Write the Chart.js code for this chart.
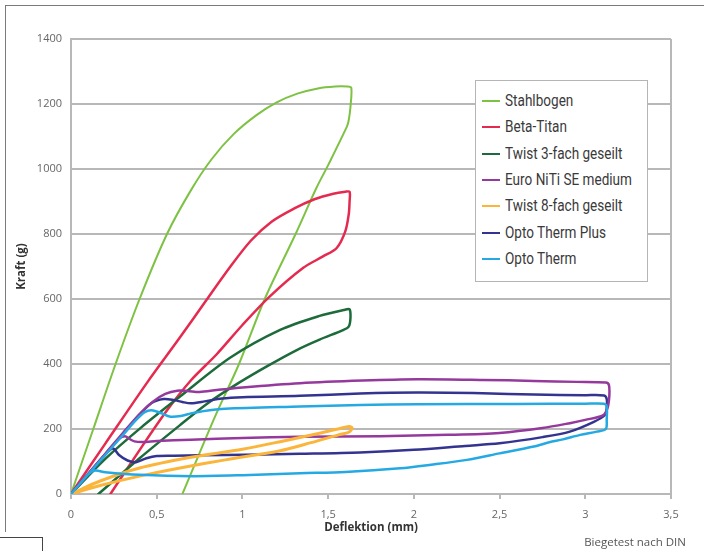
<!DOCTYPE html>
<html><head><meta charset="utf-8">
<script src="https://cdn.jsdelivr.net/npm/chart.js@4.4.1/dist/chart.umd.min.js"></script>
<style>
html,body{margin:0;padding:0;background:#fff;}
#wrap{position:relative;width:704px;height:551px;overflow:hidden;background:#fff;}
#c{position:absolute;left:0;top:0;}
.deco{position:absolute;border-color:#7a7a7a;border-style:solid;border-width:0;}
#legend{position:absolute;left:475px;top:80px;width:173px;height:202px;border:1.5px solid #b5b5b5;background:#fff;box-sizing:border-box;}
.row{position:absolute;left:0;height:26px;white-space:nowrap;}
.sw{position:absolute;left:6px;top:12px;width:18px;height:2px;}
.lt{position:absolute;left:29px;top:2px;line-height:22px;font-family:Roboto,sans-serif;font-size:16.5px;color:#3a3a3a;transform-origin:0 50%;}
#note{position:absolute;right:18px;top:534px;font-family:"Open Sans",sans-serif;font-size:11.5px;color:#555;white-space:nowrap;}
</style></head>
<body>
<div id="wrap">
<canvas id="c" width="704" height="551"></canvas>
<div class="deco" style="left:5px;top:5px;width:699px;height:0;border-top-width:1.5px;"></div>
<div class="deco" style="left:5px;top:5px;width:0;height:527px;border-left-width:1.5px;"></div>
<div class="deco" style="left:0;top:537px;width:42px;height:20px;border-top-width:1.5px;border-right-width:1.5px;border-color:#444;"></div>
<div id="legend"></div>
<div id="note">Biegetest nach DIN</div>
</div>
<script>
// ---- axis tick labels ----
const xTickLabels = ['0','0,5','1','1,5','2','2,5','3','3,5'];
const yTickLabels = ['0','200','400','600','800','1000','1200','1400'];

// ---- series names ----
const seriesNames = ['Stahlbogen','Beta-Titan','Twist 3-fach geseilt','Euro NiTi SE medium','Twist 8-fach geseilt','Opto Therm Plus','Opto Therm'];

// ---- series values (Deflektion mm / Kraft g) ----
const stahlX = [0,0.13,0.26,0.40,0.56,0.70,0.82,0.95,1.08,1.20,1.32,1.44,1.54,1.61,1.635,1.63,1.62,1.61,1.50,1.43,1.31,1.13,0.98,0.84,0.65];
const stahlY = [0,200,400,600,800,935,1030,1108,1165,1205,1232,1248,1254,1254,1250,1190,1150,1131,1012,940,800,600,400,238,0];

const betaX = [0,0.20,0.447,0.636,0.79,0.93,1.05,1.17,1.30,1.42,1.53,1.60,1.625,1.625,1.62,1.60,1.55,1.47,1.355,1.16,1.00,0.85,0.70,0.554,0.40,0.23];
const betaY = [0,155,345,482,597,700,780,838,878,907,924,930,930,900,860,808,757,731,696,608,520,430,350,253,135,0];

const twist3X = [0,0.2,0.41,0.636,0.93,1.22,1.45,1.59,1.625,1.63,1.62,1.59,1.45,1.317,1.15,0.976,0.80,0.636,0.40,0.16];
const twist3Y = [0,108,205,300,420,505,548,566,568,540,515,505,475,443,395,341,280,212,110,0];

const euroX = [0,0.1,0.2,0.3,0.4,0.48,0.55,0.62,0.68,0.75,0.85,1.0,1.336,1.7,2.02,2.4,2.7,2.95,3.12,3.138,3.14,3.13,3.105,3.0,2.91,2.75,2.5,2.2,1.8,1.336,1.0,0.7,0.5,0.42,0.37,0.34,0.315,0.28,0.2,0.1,0];
const euroY = [0,62,124,186,246,285,308,318,317,314,320,328,341,349,353,351,348,345,343,335,300,265,243,228,218,203,188,182,178,176,172,167,163,160,162,170,178,170,123,62,0];

const twist8X = [0,0.17,0.4,0.7,1.0,1.22,1.45,1.58,1.625,1.64,1.62,1.56,1.4,1.22,0.9,0.636,0.4,0.17,0];
const twist8Y = [0,40,80,113,138,161,187,203,208,203,190,182,158,133,105,80,55,26,0];

const plusX = [0,0.1,0.2,0.3,0.4,0.47,0.54,0.6,0.65,0.7,0.78,0.88,1.0,1.336,1.686,2.02,2.4,2.7,3.0,3.11,3.125,3.125,3.115,3.05,2.91,2.75,2.5,2.3,2.0,1.686,1.336,0.9,0.6,0.5,0.44,0.38,0.33,0.28,0.245,0.2,0.1,0];
const plusY = [0,61,122,183,244,280,292,289,283,279,285,294,298,302,309,312,310,306,304,303,292,265,243,222,192,175,156,148,136,128,124,120,118,117,110,98,103,120,140,122,61,0];

const optoX = [0,0.1,0.2,0.3,0.38,0.43,0.47,0.52,0.58,0.64,0.70,0.76,0.9,1.336,1.686,2.02,2.6,3.0,3.11,3.125,3.125,3.12,3.067,2.97,2.87,2.79,2.70,2.50,2.31,2.10,1.92,1.60,1.336,1.0,0.713,0.4,0.2,0.14,0.1,0.05,0];
const optoY = [0,60,120,180,228,252,258,250,238,240,248,254,262,269,274,276,277,278,278,270,230,200,192,182,168,159,146,125,105,90,79,68,64,58,55,59,67,72,60,30,0];

// ---- styles ----
const seriesColors = ['#7dc243','#e52a4f','#1d6b3b','#95399c','#fbb53a','#343390','#25a9e2'];
const seriesWidths = [2,2.5,2.5,2.5,3,2.5,2.5];
const drawOrder = [7,6,5,3,2,4,1];
const gridColor = '#b8b8b8';

const xs = [stahlX,betaX,twist3X,euroX,twist8X,plusX,optoX];
const ys = [stahlY,betaY,twist3Y,euroY,twist8Y,plusY,optoY];

const datasets = seriesNames.map((name,i)=>({
  label: name,
  data: xs[i].map((x,j)=>({x:x, y:ys[i][j]})),
  showLine: true,
  borderColor: seriesColors[i],
  backgroundColor: seriesColors[i],
  borderWidth: seriesWidths[i],
  pointRadius: 0,
  pointHoverRadius: 0,
  tension: 0.3,
  fill: false,
  order: drawOrder[i],
  borderJoinStyle: 'round',
  borderCapStyle: 'round'
}));

new Chart(document.getElementById('c'), {
  type: 'scatter',
  data: { datasets },
  options: {
    responsive: false,
    animation: false,
    devicePixelRatio: 1,
    layout: { padding: { top: 39, right: 33, left: 0, bottom: 0 } },
    plugins: { legend: { display: false }, tooltip: { enabled: false } },
    scales: {
      x: {
        type: 'linear', min: 0, max: 3.5,
        afterFit: s => { s.height = 57; },
        ticks: { stepSize: 0.5, color: '#666', padding: 9, font: { family: 'Open Sans', size: 11 },
          callback: (v, i) => xTickLabels[i] },
        grid: { color: c => (c.tick && Math.abs(c.tick.value - 3.5) < 1e-6) ? gridColor : 'rgba(0,0,0,0)',
          lineWidth: 2, tickColor: gridColor, tickLength: 5, drawTicks: true },
        border: { display: true, color: gridColor, width: 2 },
        title: { display: true, text: 'Deflektion (mm)', color: '#333', font: { family: 'Open Sans', size: 11.5, weight: 'bold' }, padding: { top: 0, bottom: 16 } }
      },
      y: {
        type: 'linear', min: 0, max: 1400,
        afterFit: s => { s.width = 71; },
        ticks: { stepSize: 200, color: '#666', padding: 9, font: { family: 'Open Sans', size: 11 },
          callback: (v, i) => yTickLabels[i] },
        grid: { color: gridColor, lineWidth: 2, drawTicks: false },
        border: { display: true, color: gridColor, width: 2 },
        title: { display: true, text: 'Kraft (g)', color: '#333', font: { family: 'Open Sans', size: 11.5, weight: 'bold' }, padding: { top: 15, bottom: 0 } }
      }
    }
  }
});

// ---- HTML legend built from the series arrays ----
const mctx = document.createElement('canvas').getContext('2d');
mctx.font = '16.5px Roboto';
const refW = mctx.measureText('Euro NiTi SE medium').width;
const squeeze = refW > 0 ? Math.min(1, 127 / refW) : 0.82;
const lg = document.getElementById('legend');
seriesNames.forEach((name,i)=>{
  const row = document.createElement('div');
  row.className = 'row';
  row.style.top = (7 + i*26.3) + 'px';
  const sw = document.createElement('div');
  sw.className = 'sw';
  sw.style.background = seriesColors[i];
  const t = document.createElement('div');
  t.className = 'lt';
  t.style.transform = 'scaleX(' + squeeze + ')';
  t.textContent = name;
  row.appendChild(sw); row.appendChild(t);
  lg.appendChild(row);
});
</script>
</body></html>
